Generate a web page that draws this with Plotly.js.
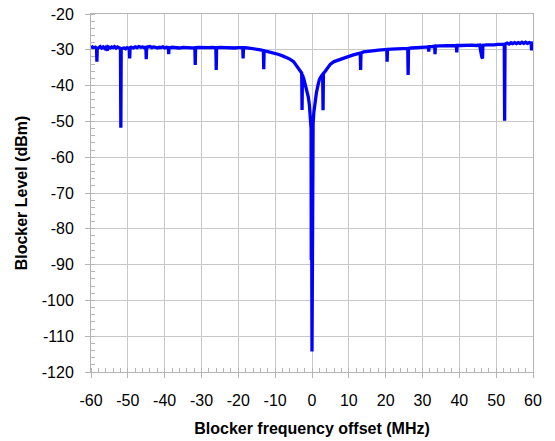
<!DOCTYPE html>
<html>
<head>
<meta charset="utf-8">
<script src="https://cdn.plot.ly/plotly-3.0.1.min.js"></script>
<style>html,body{margin:0;padding:0;background:#fff;}#chart{width:555px;height:441px;}</style>
</head>
<body>
<div id="chart"></div>
<script>
// Blocker frequency offset (MHz)
const offsetMHz = [
 -60.0,-59.6,-59.2,-58.8,-58.5,-58.4,-58.3,-57.9,-57.5,-57.1,-56.7,-56.3,-56.0,-55.6,-55.3,-54.8,-54.4,-54.0,-53.6,-53.2,
 -52.8,-52.4,-52.0,-51.9,-51.8,-51.4,-51.0,-50.6,-50.2,-49.8,-49.6,-49.5,-49.4,-49.0,-48.5,-48.0,-47.5,-47.0,-46.5,-46.0,
 -45.5,-45.1,-45.0,-44.9,-44.5,-44.0,-43.5,-43.0,-42.5,-42.0,-41.5,-41.0,-40.5,-40.0,-39.5,-39.0,-38.9,-38.8,-38.0,-37.0,
 -36.0,-35.0,-34.0,-33.0,-32.0,-31.8,-31.7,-31.6,-31.0,-30.0,-29.0,-28.0,-27.0,-26.1,-26.0,-25.9,-25.0,-24.0,-23.0,-22.0,
 -21.0,-20.0,-19.0,-18.8,-18.7,-18.6,-18.0,-17.0,-16.0,-15.0,-14.0,-13.2,-13.1,-13.0,-12.0,-11.0,-10.0,-9.0,-8.0,-7.0,
 -6.0,-5.0,-4.0,-3.2,-2.8,-2.7,-2.6,-2.2,-1.8,-1.4,-1.0,-0.7,-0.4,-0.25,-0.2,-0.1,0.0,0.1,0.3,0.5,
 0.8,1.2,1.6,2.0,2.5,2.9,3.0,3.1,3.6,4.1,5.0,6.0,7.0,8.0,9.0,10.0,11.0,12.0,13.1,13.2,
 13.3,14.0,15.0,16.0,17.0,18.0,19.0,20.3,20.4,20.5,21.5,22.5,23.5,24.5,25.5,26.0,26.1,26.2,27.0,28.0,
 29.0,30.0,31.0,31.6,31.7,31.8,32.5,33.3,33.4,33.5,34.5,35.5,36.5,37.5,38.5,39.2,39.3,39.4,40.5,41.5,
 42.5,43.5,44.5,45.5,46.1,46.2,46.3,46.4,47.5,48.5,49.5,50.5,51.5,52.2,52.3,52.4,53.0,53.5,54.0,54.5,
 55.0,55.5,56.0,56.5,57.0,57.5,58.0,58.5,59.0,59.5,59.6,59.7,60.0
];
// Blocker level (dBm)
const blockerLevel = [
 -29.6,-29.2,-29.5,-29.3,-29.6,-33.3,-29.6,-29.4,-29.1,-29.5,-29.2,-29.6,-29.3,-30.2,-29.2,-29.5,-29.2,-29.4,-29.1,-29.5,
 -29.2,-29.4,-29.6,-51.8,-29.8,-29.6,-29.5,-29.7,-29.4,-29.6,-29.5,-32.4,-29.6,-29.3,-29.5,-29.2,-29.4,-29.1,-29.3,-29.2,
 -29.4,-29.3,-32.6,-29.4,-29.2,-29.1,-29.4,-29.2,-29.3,-29.5,-29.3,-29.4,-29.2,-29.5,-29.3,-29.4,-31.2,-29.5,-29.3,-29.4,
 -29.5,-29.3,-29.4,-29.3,-29.4,-29.5,-34.2,-29.4,-29.3,-29.4,-29.3,-29.4,-29.3,-29.4,-35.6,-29.4,-29.3,-29.4,-29.3,-29.4,
 -29.5,-29.4,-29.4,-29.4,-32.4,-29.5,-29.4,-29.5,-29.7,-29.9,-30.0,-30.2,-35.4,-30.3,-30.5,-30.7,-31.0,-31.3,-31.7,-32.1,
 -32.6,-33.3,-34.6,-35.8,-36.5,-46.8,-37.0,-38.2,-39.6,-41.2,-43.2,-45.5,-49.0,-52.0,-88.7,-70.0,-114.3,-60.0,-50.5,-47.5,
 -44.8,-42.0,-40.0,-38.3,-37.4,-36.8,-46.9,-36.6,-36.0,-35.2,-34.0,-33.3,-32.9,-32.5,-32.2,-31.9,-31.5,-31.2,-30.9,-35.6,
 -30.9,-30.6,-30.4,-30.3,-30.2,-30.1,-30.0,-29.9,-33.3,-29.9,-29.8,-29.8,-29.7,-29.7,-29.6,-29.6,-37.0,-29.6,-29.5,-29.4,
 -29.3,-29.3,-29.2,-29.2,-30.5,-29.1,-29.1,-29.0,-31.2,-29.0,-28.9,-28.9,-28.8,-28.9,-28.8,-28.8,-30.7,-28.8,-28.8,-28.7,
 -28.8,-28.7,-28.8,-28.7,-32.0,-28.7,-32.4,-28.7,-28.6,-28.7,-28.6,-28.5,-28.6,-28.5,-49.8,-28.4,-28.1,-28.4,-28.0,-28.3,
 -28.0,-28.3,-28.0,-28.2,-27.9,-28.2,-27.9,-28.2,-28.0,-28.2,-30.2,-28.1,-28.0
];
const xTickVals = [-60,-50,-40,-30,-20,-10,0,10,20,30,40,50,60];
const xTickText = ['-60','-50','-40','-30','-20','-10','0','10','20','30','40','50','60'];
const yTickVals = [-120,-110,-100,-90,-80,-70,-60,-50,-40,-30,-20];
const yTickText = ['-120','-110','-100','-90','-80','-70','-60','-50','-40','-30','-20'];
const xTitle = 'Blocker frequency offset (MHz)';
const yTitle = 'Blocker Level (dBm)';

const gridC = '#c8c8c8';
const lineC = '#b4b4b4';
const fontFam = '"Liberation Sans", Arial, sans-serif';

const trace = {
  x: offsetMHz, y: blockerLevel, type: 'scatter', mode: 'lines',
  line: {color: '#0000ff', width: 3.3}, hoverinfo: 'skip'
};

function axisBase(range, ticks, labels, title) {
  return {
    range: range, tickmode: 'array', tickvals: ticks, ticktext: labels,
    showgrid: true, gridcolor: gridC, gridwidth: 1,
    showline: true, linecolor: lineC, linewidth: 1, mirror: true,
    ticks: 'outside', ticklen: 5, tickcolor: lineC, tickwidth: 1,
    minor: {dtick: 2, tick0: 0, ticks: 'inside', ticklen: 4, tickcolor: lineC, tickwidth: 1, showgrid: false},
    zeroline: false, fixedrange: true, automargin: false,
    tickfont: {family: fontFam, size: 16, color: '#000'},
    title: {text: title, font: {family: fontFam, size: 16, color: '#000', weight: 'bold'}}
  };
}

const xa = axisBase([-60, 60], xTickVals, xTickText, xTitle);
xa.ticklabelstandoff = 9;
xa.title.standoff = 14;
const ya = axisBase([-120, -20], yTickVals, yTickText, yTitle);
ya.ticklabelstandoff = 8;
ya.title.standoff = 10;

const layout = {
  width: 555, height: 441,
  margin: {l: 91, r: 22, t: 14, b: 69, autoexpand: false},
  paper_bgcolor: '#fff', plot_bgcolor: '#fff',
  showlegend: false,
  xaxis: xa, yaxis: ya
};

Plotly.newPlot('chart', [trace], layout, {displayModeBar: false, staticPlot: true});
</script>
</body>
</html>
